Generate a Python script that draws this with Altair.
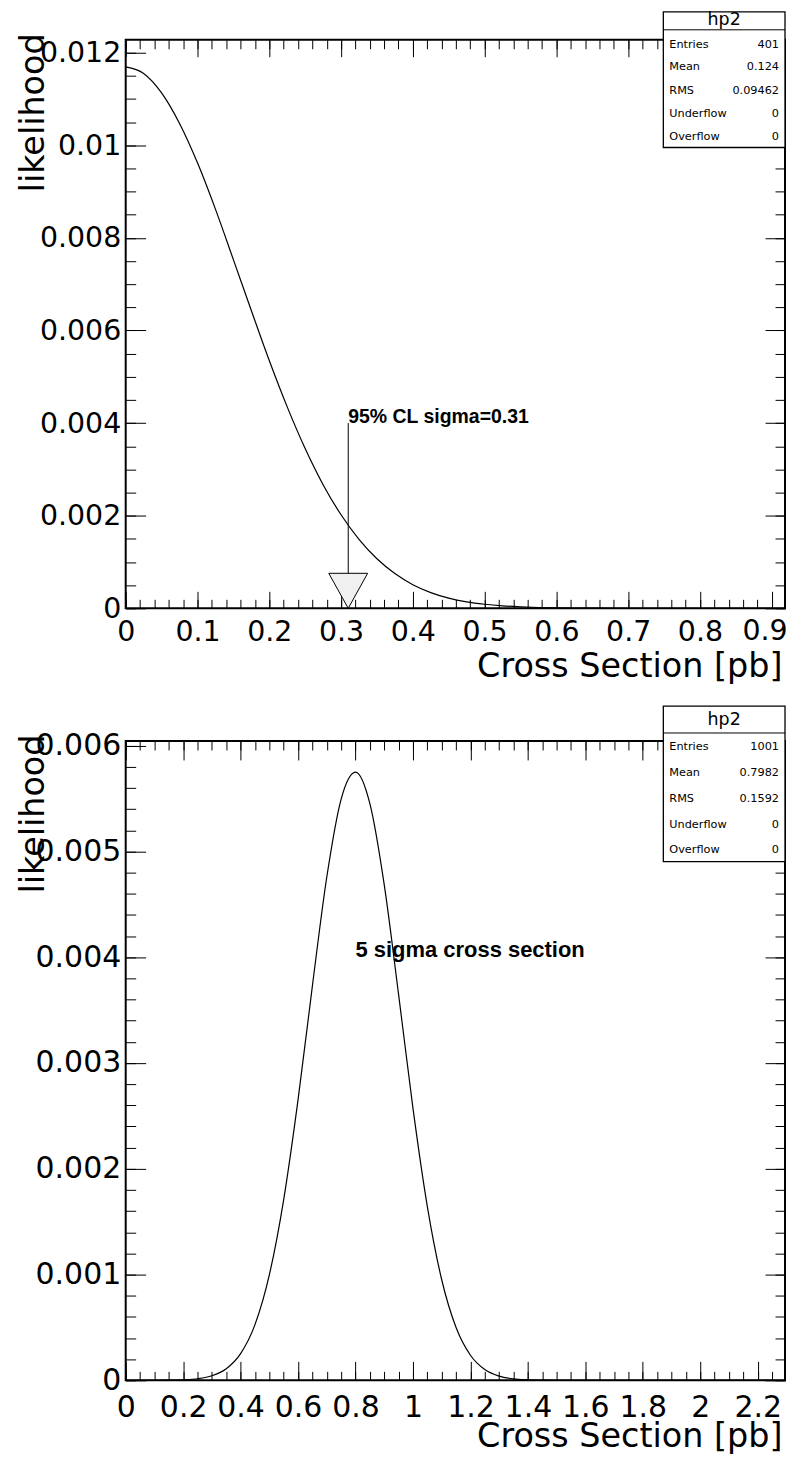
import altair as alt
import pandas as pd

# ---------------- data ----------------
top_x = [0, 0.025, 0.05, 0.075, 0.1, 0.125, 0.15, 0.175, 0.2, 0.225, 0.25, 0.275,
         0.3, 0.325, 0.35, 0.375, 0.4, 0.425, 0.45, 0.475, 0.5, 0.525, 0.55, 0.575,
         0.6, 0.65, 0.7, 0.8, 0.918]
top_y = [0.01169, 0.01155, 0.01113, 0.01047, 0.00962, 0.00862, 0.00753, 0.00643,
         0.00535, 0.00435, 0.00345, 0.00267, 0.00202, 0.00149, 0.00107, 0.00075,
         0.00051, 0.00034, 0.00022, 0.00014, 0.000088, 0.000053, 0.000032, 0.000018,
         0.00001, 0.000003, 0, 0, 0]

bot_x = [0, 0.1, 0.15, 0.2, 0.25, 0.3, 0.35, 0.4, 0.45, 0.5, 0.55, 0.6, 0.65, 0.7,
         0.75, 0.8, 0.85, 0.9, 0.95, 1.0, 1.05, 1.1, 1.15, 1.2, 1.25, 1.3, 1.35, 1.4,
         1.45, 1.5, 1.8, 2.295]
bot_y = [0, 0, 0.0000015, 0.000005, 0.000015, 0.000043, 0.00011, 0.000253, 0.000527,
         0.000997, 0.001709, 0.002653, 0.003732, 0.004758, 0.005495, 0.00575, 0.005451,
         0.004683, 0.003646, 0.002571, 0.001643, 0.000951, 0.000499, 0.000237, 0.000102,
         0.00004, 0.000014, 0.000005, 0.0000014, 0, 0, 0]

top_xticks = [0, 0.1, 0.2, 0.3, 0.4, 0.5, 0.6, 0.7, 0.8, 0.9]
top_xlabels_main = [0, 0.1, 0.2, 0.3, 0.4, 0.5, 0.6, 0.7, 0.8]
top_xlabel_last = [0.9]
top_yticks = [0, 0.002, 0.004, 0.006, 0.008, 0.01, 0.012]
bot_xticks = [0, 0.2, 0.4, 0.6, 0.8, 1.0, 1.2, 1.4, 1.6, 1.8, 2.0, 2.2]
bot_yticks = [0, 0.001, 0.002, 0.003, 0.004, 0.005, 0.006]

stat_names = ["Entries", "Mean", "RMS", "Underflow", "Overflow"]
top_stats = ["401", "0.124", "0.09462", "0", "0"]
bot_stats = ["1001", "0.7982", "0.1592", "0", "0"]

top_note = "95% CL sigma=0.31"
top_note_x = [0.31]
top_note_y = [0.004]
bot_note = "5 sigma cross section"
bot_note_x = [0.8]
bot_note_y = [0.004]

REG = "DejaVu Sans"
BOLD = "Liberation Sans"
TITLE_SIZE = 33.5


def minor(step, top):
    n = int(round(top / step))
    return [round(i * step, 7) for i in range(n + 1) if i * step <= top + 1e-12]


def panel(xv, yv, xdom, ydom, W, H, xlab_vals, xmaj, xmin_, ymaj, ymin_, lab_size,
          xlab_pad, xtitle_y, xmaj_len, xmin_len, ymaj_len, ymin_len,
          stats, box, annots):
    df = pd.DataFrame({"x": xv, "y": yv})
    xsc = alt.Scale(domain=xdom, nice=False, zero=False)
    ysc = alt.Scale(domain=ydom, nice=False, zero=False)

    main = alt.Chart(df).mark_line(color="black", strokeWidth=1.2,
                                   interpolate="monotone").encode(
        x=alt.X("x:Q", scale=xsc, axis=alt.Axis(
            orient="bottom", values=xlab_vals, format="~g", ticks=False, tickSize=0,
            domain=False, grid=False, labelFont=REG, labelFontSize=lab_size,
            labelColor="black", labelPadding=xlab_pad, labelBaseline="alphabetic",
            labelFlush=False, labelOverlap=False,
            title="Cross Section [pb]", titleFont=REG, titleFontSize=TITLE_SIZE,
            titleFontWeight="normal", titleColor="black", titleAnchor="end",
            titleAlign="right", titleBaseline="alphabetic", titleX=W - 3,
            titleY=xtitle_y)),
        y=alt.Y("y:Q", scale=ysc, axis=alt.Axis(
            orient="left", values=ymaj, format="~g", ticks=False, tickSize=0,
            domain=False, grid=False, labelFont=REG, labelFontSize=lab_size,
            labelColor="black", labelPadding=5, labelFlush=False,
            labelOverlap=False, title="likelihood", titleFont=REG,
            titleFontSize=TITLE_SIZE, titleFontWeight="normal", titleColor="black",
            titleAngle=270, titleAlign="right", titleBaseline="alphabetic",
            titleX=-82, titleY=-7)),
    )

    def ticks(vx, vy, sx, sy, mirror):
        return alt.Chart(df).mark_line(opacity=0).encode(
            x=alt.X("x:Q", scale=xsc, axis=alt.Axis(
                orient="bottom" if mirror else "top", offset=-H, values=vx,
                labels=False, domain=False, grid=False, ticks=True, tickSize=sx,
                tickColor="black", tickWidth=1, title=None)),
            y=alt.Y("y:Q", scale=ysc, axis=alt.Axis(
                orient="left" if mirror else "right", offset=-W, values=vy,
                labels=False, domain=False, grid=False, ticks=True, tickSize=sy,
                tickColor="black", tickWidth=1, title=None)),
        )

    tick_layers = [
        ticks(xmaj, ymaj, xmaj_len, ymaj_len, False),
        ticks(xmin_, ymin_, xmin_len, ymin_len, False),
        ticks(xmaj, ymaj, xmaj_len, ymaj_len, True),
        ticks(xmin_, ymin_, xmin_len, ymin_len, True),
    ]

    one = pd.DataFrame({"k": [0]})
    bx0, bx1 = 539, W
    b_top, b_sep, rows, b_bot, t_mid = box
    st = [
        alt.Chart(one).mark_rect(fill="white", stroke="black", strokeWidth=1.3).encode(
            x=alt.value(bx0), x2=alt.value(bx1), y=alt.value(b_top), y2=alt.value(b_bot)),
        alt.Chart(one).mark_rule(color="black", strokeWidth=1).encode(
            x=alt.value(bx0), x2=alt.value(bx1), y=alt.value(b_sep)),
        alt.Chart(one).mark_text(font=REG, fontSize=17.5, color="black",
                                 align="center", baseline="middle").encode(
            x=alt.value((bx0 + bx1) / 2), y=alt.value(t_mid), text=alt.value("hp2")),
    ]
    for name, val, ry in zip(stat_names, stats, rows):
        st.append(alt.Chart(one).mark_text(font=REG, fontSize=11.3, color="black",
                                           align="left", baseline="middle").encode(
            x=alt.value(bx0 + 6), y=alt.value(ry), text=alt.value(name)))
        st.append(alt.Chart(one).mark_text(font=REG, fontSize=11.3, color="black",
                                           align="right", baseline="middle").encode(
            x=alt.value(bx1 - 6), y=alt.value(ry), text=alt.value(val)))

    return alt.layer(main, *tick_layers, *annots, *st).resolve_axis(
        x="independent", y="independent").properties(width=W, height=H)


# ---------------- top panel ----------------
TW, TH = 661, 570
t_xdom = [0, 0.9185]
t_ydom = [0, 0.012277]
t_sc_x = alt.Scale(domain=t_xdom, nice=False, zero=False)
t_sc_y = alt.Scale(domain=t_ydom, nice=False, zero=False)

arrow_df = pd.DataFrame({"x": top_note_x, "y": top_note_y, "y0": [0],
                         "label": [top_note]})
last_df = pd.DataFrame({"x": top_xlabel_last,
                        "label": [format(v, "g") for v in top_xlabel_last]})
t_annots = [
    alt.Chart(arrow_df).mark_rule(color="black", strokeWidth=1).encode(
        x=alt.X("x:Q", scale=t_sc_x, axis=None),
        y=alt.Y("y:Q", scale=t_sc_y, axis=None), y2="y0:Q"),
    alt.Chart(arrow_df).mark_point(shape="M-1,-1.8L1,-1.8L0,0Z", size=1521,
                                   filled=True, fill="#f0f0f0", stroke="black",
                                   strokeWidth=1, opacity=1).encode(
        x=alt.X("x:Q", scale=t_sc_x, axis=None),
        y=alt.Y("y0:Q", scale=t_sc_y, axis=None)),
    alt.Chart(arrow_df).mark_text(font=BOLD, fontWeight="bold", fontSize=19.5,
                                  color="black", align="left",
                                  baseline="alphabetic").encode(
        x=alt.X("x:Q", scale=t_sc_x, axis=None),
        y=alt.Y("y:Q", scale=t_sc_y, axis=None), text="label:N"),
    # last x label of the top panel, kept inside the page like the reference
    alt.Chart(last_df).mark_text(font=REG, fontSize=28.5, color="black",
                                 align="right", baseline="alphabetic", dx=16).encode(
        x=alt.X("x:Q", scale=t_sc_x, axis=None),
        y=alt.value(TH + 32), text="label:N"),
]

top = panel(top_x, top_y, t_xdom, t_ydom, TW, TH, top_xlabels_main, top_xticks,
            minor(0.02, 0.918), top_yticks, minor(0.0005, 0.0122), 28.5, 32, 68,
            17, 9, 20, 10, top_stats,
            (-28, -10, [5.7, 27.3, 51.3, 74.7, 97.3], 108, -19.5), t_annots)

# ---------------- bottom panel ----------------
BW, BH = 661, 641
b_xdom = [0, 2.295]
b_ydom = [0, 0.006044]
b_sc_x = alt.Scale(domain=b_xdom, nice=False, zero=False)
b_sc_y = alt.Scale(domain=b_ydom, nice=False, zero=False)

note_df = pd.DataFrame({"x": bot_note_x, "y": bot_note_y, "label": [bot_note]})
b_annots = [
    alt.Chart(note_df).mark_text(font=BOLD, fontWeight="bold", fontSize=22,
                                 color="black", align="left",
                                 baseline="alphabetic").encode(
        x=alt.X("x:Q", scale=b_sc_x, axis=None),
        y=alt.Y("y:Q", scale=b_sc_y, axis=None), text="label:N"),
]

bottom = panel(bot_x, bot_y, b_xdom, b_ydom, BW, BH, bot_xticks, bot_xticks,
               minor(0.05, 2.29), bot_yticks, minor(0.0002, 0.00604), 30, 36,
               66, 19, 9, 20, 10, bot_stats,
               (-35, -8, [6, 32, 58, 84, 109], 121, -21.5), b_annots)

chart = alt.vconcat(top, bottom, spacing=20).properties(
    padding={"left": 8, "top": 0, "right": 0, "bottom": 0},
    background="white",
).configure_view(stroke="black", strokeWidth=2).configure_axis(grid=False)

chart.save("out.html", embed_options={"renderer": "svg", "actions": False})
